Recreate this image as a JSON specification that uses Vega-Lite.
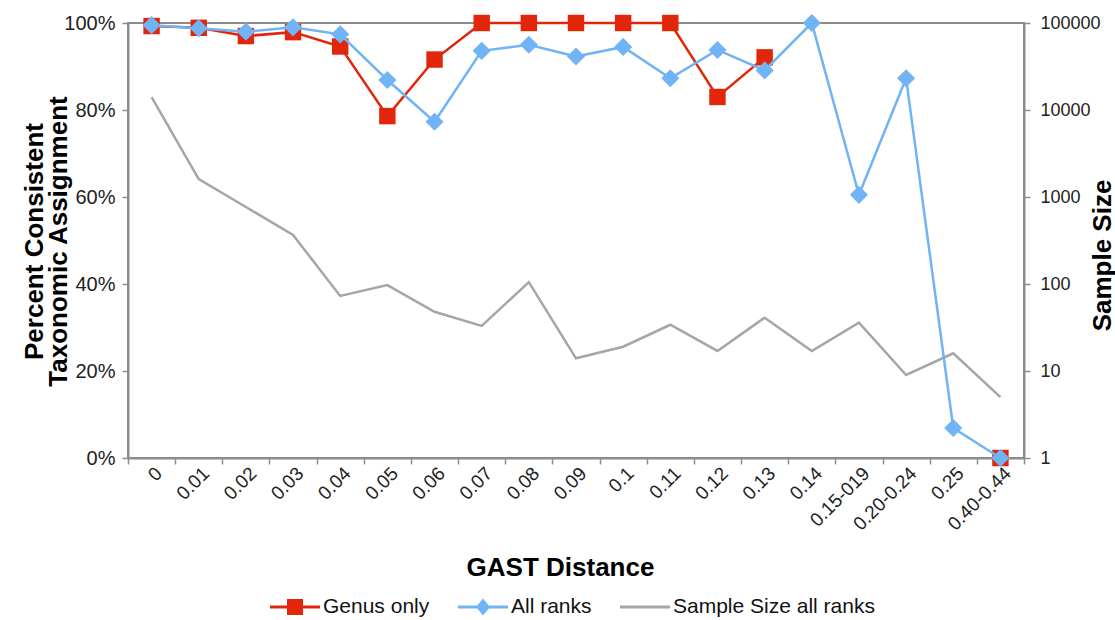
{
  "$schema": "https://vega.github.io/schema/vega-lite/v6.json",
  "width": 896,
  "height": 435,
  "autosize": {"type": "none"},
  "padding": {"left": 128, "top": 23, "right": 91, "bottom": 162},
  "config": {
    "font": "Liberation Sans",
    "view": {"stroke": "#8c8c8c", "strokeWidth": 2},
    "axis": {
      "domainColor": "#8c8c8c",
      "domainWidth": 2,
      "tickColor": "#8c8c8c",
      "tickWidth": 1.5,
      "tickSize": 6,
      "labelColor": "#222222",
      "titleColor": "#000000",
      "grid": false,
      "labelFont": "Liberation Sans",
      "titleFont": "Liberation Sans"
    }
  },
  "data": {
    "values": [
      {"dist": "0", "series": "Genus only", "value": 0.993},
      {"dist": "0.01", "series": "Genus only", "value": 0.989},
      {"dist": "0.02", "series": "Genus only", "value": 0.970},
      {"dist": "0.03", "series": "Genus only", "value": 0.979},
      {"dist": "0.04", "series": "Genus only", "value": 0.946},
      {"dist": "0.05", "series": "Genus only", "value": 0.786},
      {"dist": "0.06", "series": "Genus only", "value": 0.916},
      {"dist": "0.07", "series": "Genus only", "value": 1.0},
      {"dist": "0.08", "series": "Genus only", "value": 1.0},
      {"dist": "0.09", "series": "Genus only", "value": 1.0},
      {"dist": "0.1", "series": "Genus only", "value": 1.0},
      {"dist": "0.11", "series": "Genus only", "value": 1.0},
      {"dist": "0.12", "series": "Genus only", "value": 0.830},
      {"dist": "0.13", "series": "Genus only", "value": 0.921},
      {"dist": "0.14", "series": "Genus only", "value": null},
      {"dist": "0.15-019", "series": "Genus only", "value": null},
      {"dist": "0.20-0.24", "series": "Genus only", "value": null},
      {"dist": "0.25", "series": "Genus only", "value": null},
      {"dist": "0.40-0.44", "series": "Genus only", "value": 0.0},
      {"dist": "0", "series": "All ranks", "value": 0.995},
      {"dist": "0.01", "series": "All ranks", "value": 0.988},
      {"dist": "0.02", "series": "All ranks", "value": 0.980},
      {"dist": "0.03", "series": "All ranks", "value": 0.990},
      {"dist": "0.04", "series": "All ranks", "value": 0.974},
      {"dist": "0.05", "series": "All ranks", "value": 0.869},
      {"dist": "0.06", "series": "All ranks", "value": 0.773},
      {"dist": "0.07", "series": "All ranks", "value": 0.936},
      {"dist": "0.08", "series": "All ranks", "value": 0.950},
      {"dist": "0.09", "series": "All ranks", "value": 0.923},
      {"dist": "0.1", "series": "All ranks", "value": 0.945},
      {"dist": "0.11", "series": "All ranks", "value": 0.873},
      {"dist": "0.12", "series": "All ranks", "value": 0.938},
      {"dist": "0.13", "series": "All ranks", "value": 0.891},
      {"dist": "0.14", "series": "All ranks", "value": 1.0},
      {"dist": "0.15-019", "series": "All ranks", "value": 0.605},
      {"dist": "0.20-0.24", "series": "All ranks", "value": 0.873},
      {"dist": "0.25", "series": "All ranks", "value": 0.069},
      {"dist": "0.40-0.44", "series": "All ranks", "value": 0.0},
      {"dist": "0", "series": "Sample Size all ranks", "value": 14100},
      {"dist": "0.01", "series": "Sample Size all ranks", "value": 1610},
      {"dist": "0.02", "series": "Sample Size all ranks", "value": 767},
      {"dist": "0.03", "series": "Sample Size all ranks", "value": 366},
      {"dist": "0.04", "series": "Sample Size all ranks", "value": 73},
      {"dist": "0.05", "series": "Sample Size all ranks", "value": 97},
      {"dist": "0.06", "series": "Sample Size all ranks", "value": 48},
      {"dist": "0.07", "series": "Sample Size all ranks", "value": 33},
      {"dist": "0.08", "series": "Sample Size all ranks", "value": 105},
      {"dist": "0.09", "series": "Sample Size all ranks", "value": 14},
      {"dist": "0.1", "series": "Sample Size all ranks", "value": 19},
      {"dist": "0.11", "series": "Sample Size all ranks", "value": 34},
      {"dist": "0.12", "series": "Sample Size all ranks", "value": 17},
      {"dist": "0.13", "series": "Sample Size all ranks", "value": 41},
      {"dist": "0.14", "series": "Sample Size all ranks", "value": 17},
      {"dist": "0.15-019", "series": "Sample Size all ranks", "value": 36},
      {"dist": "0.20-0.24", "series": "Sample Size all ranks", "value": 9},
      {"dist": "0.25", "series": "Sample Size all ranks", "value": 16},
      {"dist": "0.40-0.44", "series": "Sample Size all ranks", "value": 5}
    ]
  },
  "encoding": {
    "x": {
      "field": "dist",
      "type": "ordinal",
      "sort": null,
      "bandPosition": 0.5,
      "scale": {
        "type": "band",
        "domain": ["0", "0.01", "0.02", "0.03", "0.04", "0.05", "0.06", "0.07", "0.08", "0.09", "0.1", "0.11", "0.12", "0.13", "0.14", "0.15-019", "0.20-0.24", "0.25", "0.40-0.44"],
        "paddingInner": 0,
        "paddingOuter": 0
      },
      "axis": {
        "title": "GAST Distance",
        "titleFontSize": 26,
        "titleFontWeight": "bold",
        "titleX": 432,
        "titleY": 117,
        "titleAlign": "center",
        "titleBaseline": "alphabetic",
        "labelFontSize": 19,
        "labelAngle": -45,
        "labelAlign": "right",
        "labelBaseline": "middle",
        "labelOffset": 7,
        "labelPadding": 6,
        "labelOverlap": false,
        "labelLimit": 0,
        "tickBand": "extent"
      }
    },
    "color": {
      "field": "series",
      "type": "nominal",
      "scale": {
        "domain": ["Genus only", "All ranks", "Sample Size all ranks"],
        "range": ["#e2260c", "#70b4f6", "#a6a6a6"]
      },
      "legend": {
        "orient": "none",
        "legendX": 142,
        "legendY": 559,
        "direction": "horizontal",
        "title": null,
        "labelFontSize": 21,
        "labelColor": "#111111",
        "labelLimit": 0,
        "symbolSize": 2500,
        "labelOffset": 3,
        "columnPadding": 28,
        "padding": 0,
        "symbolStrokeWidth": 0,
        "encode": {
          "symbols": {
            "update": {
              "shape": {"signal": "datum.value === 'Genus only' ? 'M-1,-0.06H1V0.06H-1Z M-0.32,-0.32H0.32V0.32H-0.32Z' : datum.value === 'All ranks' ? 'M-1,-0.06H1V0.06H-1Z M0,-0.34L0.28,0L0,0.34L-0.28,0Z' : 'M-1,-0.06H1V0.06H-1Z'"},
              "fill": {"scale": "color", "field": "value"},
              "strokeWidth": {"value": 0},
              "opacity": {"value": 1}
            }
          }
        }
      }
    }
  },
  "layer": [
    {
      "transform": [{"filter": "datum.series === 'Sample Size all ranks'"}],
      "mark": {"type": "line", "strokeWidth": 2.5},
      "encoding": {
        "y": {
          "field": "value",
          "type": "quantitative",
          "scale": {"type": "log", "domain": [1, 100000]},
          "axis": {
            "orient": "right",
            "title": "Sample Size",
            "values": [1, 10, 100, 1000, 10000, 100000],
            "format": "d",
            "labelFontSize": 18,
            "labelPadding": 10,
            "titleFontSize": 26,
            "titleFontWeight": "bold",
            "titleAngle": 270,
            "titleX": 78,
            "titleY": 232,
            "titleAlign": "center",
            "titleBaseline": "middle"
          }
        }
      }
    },
    {
      "encoding": {
        "y": {
          "field": "value",
          "type": "quantitative",
          "scale": {"domain": [0, 1], "nice": false},
          "axis": {
            "orient": "left",
            "title": ["Percent Consistent", "Taxonomic Assignment"],
            "values": [0, 0.2, 0.4, 0.6, 0.8, 1],
            "format": ".0%",
            "labelFontSize": 20,
            "labelPadding": 7,
            "titleFontSize": 26,
            "titleFontWeight": "bold",
            "titleAngle": 270,
            "titleX": -94,
            "titleY": 218,
            "titleAlign": "center",
            "titleBaseline": "middle",
            "titleLineHeight": 24
          }
        }
      },
      "layer": [
        {
          "transform": [{"filter": "datum.series === 'Genus only'"}],
          "mark": {"type": "line", "strokeWidth": 2.5, "invalid": "break-paths-filter-domains"}
        },
        {
          "transform": [{"filter": "datum.series === 'Genus only' && isValid(datum.value)"}],
          "mark": {"type": "point", "shape": "square", "filled": true, "size": 270, "opacity": 1}
        },
        {
          "transform": [{"filter": "datum.series === 'All ranks'"}],
          "mark": {"type": "line", "strokeWidth": 2.5}
        },
        {
          "transform": [{"filter": "datum.series === 'All ranks'"}],
          "mark": {"type": "point", "shape": "diamond", "filled": true, "size": 330, "opacity": 1}
        }
      ]
    }
  ],
  "resolve": {"scale": {"y": "independent"}}
}
